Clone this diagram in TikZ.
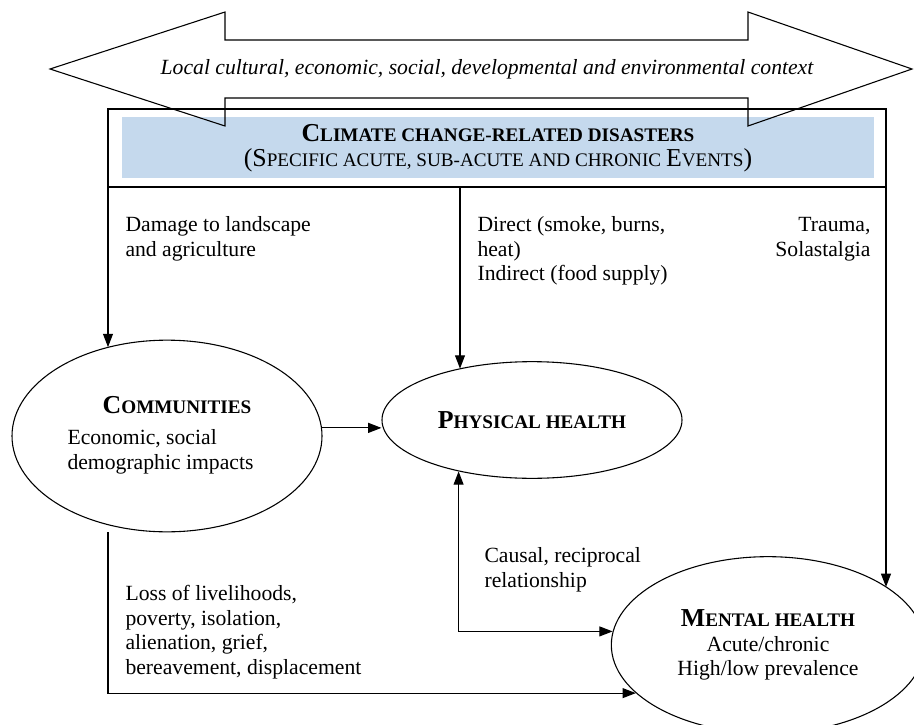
\documentclass[tikz,border=0pt]{standalone}
\usepackage{fontspec}
\setmainfont{Liberation Serif}
\usetikzlibrary{arrows.meta,shapes.geometric}
\definecolor{ccblue}{RGB}{197,217,237}
% fake small caps: big initial, smaller capitals
\newcommand\bigc[1]{{\fontsize{15.5}{17}\selectfont #1}}
\newcommand\smc[1]{{\fontsize{11.5}{13}\selectfont #1}}
\begin{document}
\begin{tikzpicture}[
  x=0.6pt, y=-0.6pt, line width=0.65pt,
  >={Triangle[length=8pt,width=6pt]},
  every node/.style={font=\fontsize{13}{14.7}\selectfont},
  lbl/.style={align=left, inner sep=0pt},
  oval/.style={ellipse, draw, inner sep=0pt}
]
\useasboundingbox (0,0) rectangle (914,725);

% disasters box
\fill[ccblue] (122,117) rectangle (874,178);
\draw (108,109) rectangle (886,187);
\coordinate (bl) at (108,187);
\coordinate (bm) at (460,187);
\coordinate (br) at (886,187);
\node[font=\fontsize{13}{14.7}\selectfont\bfseries] (cctitle) at (498,133)
  {\bigc{C}\smc{LIMATE CHANGE-RELATED DISASTERS}};
\node (ccsub) at (498,160)
  {\bigc{(S}\smc{PECIFIC ACUTE, SUB-ACUTE AND CHRONIC }\bigc{E}\smc{VENTS}\bigc{)}};

% context arrow
\draw (50,69) -- (225,12) -- (225,40) -- (748,40) -- (748,12) -- (912,69)
  -- (748,126) -- (748,98) -- (225,98) -- (225,126) -- cycle;
\node[font=\fontsize{13}{14.7}\selectfont\itshape] (ctx) at (487,69)
  {Local cultural, economic, social, developmental and environmental context};

% the three ovals
\node[oval, minimum width=186pt, minimum height=115pt] (comm) at (167,436) {};
\node (commtitle) at (177,405) {\textbf{\bigc{C}\smc{OMMUNITIES}}};
\node[lbl, anchor=west] (commtext) at (67,452) {Economic, social\\demographic impacts};

\node[oval, minimum width=180pt, minimum height=70pt] (phys) at (532,420)
  {\textbf{\bigc{P}\smc{HYSICAL HEALTH}}};

\node[oval, align=center, minimum width=188pt, minimum height=106pt] (mental) at (768,645)
  {\textbf{\bigc{M}\smc{ENTAL HEALTH}}\\Acute/chronic\\High/low prevalence};

% connectors
\draw[->] (bl) -- (bl |- comm.124);
\draw[->] (bm) -- (bm |- phys.145);
\draw[->] (br) -- (br |- mental.26);
\draw[->] (comm.3) -- (comm.3 -| phys.west);
\draw[<->] (phys.215) |- (mental.175);
\draw[->] (comm.south -| bl) |- (mental.200);

% labels
\node[lbl, anchor=west] (dmg) at (125,239) {Damage to landscape\\and agriculture};
\node[lbl, anchor=west] (direct) at (477,251) {Direct (smoke, burns,\\heat)\\Indirect (food supply)};
\node[lbl, align=right, anchor=east] (trauma) at (871,239) {Trauma,\\Solastalgia};
\node[lbl, anchor=west] (causal) at (484,570) {Causal, reciprocal\\relationship};
\node[lbl, anchor=west] (loss) at (125,632)
  {Loss of livelihoods,\\poverty, isolation,\\alienation, grief,\\bereavement, displacement};
\end{tikzpicture}
\end{document}
